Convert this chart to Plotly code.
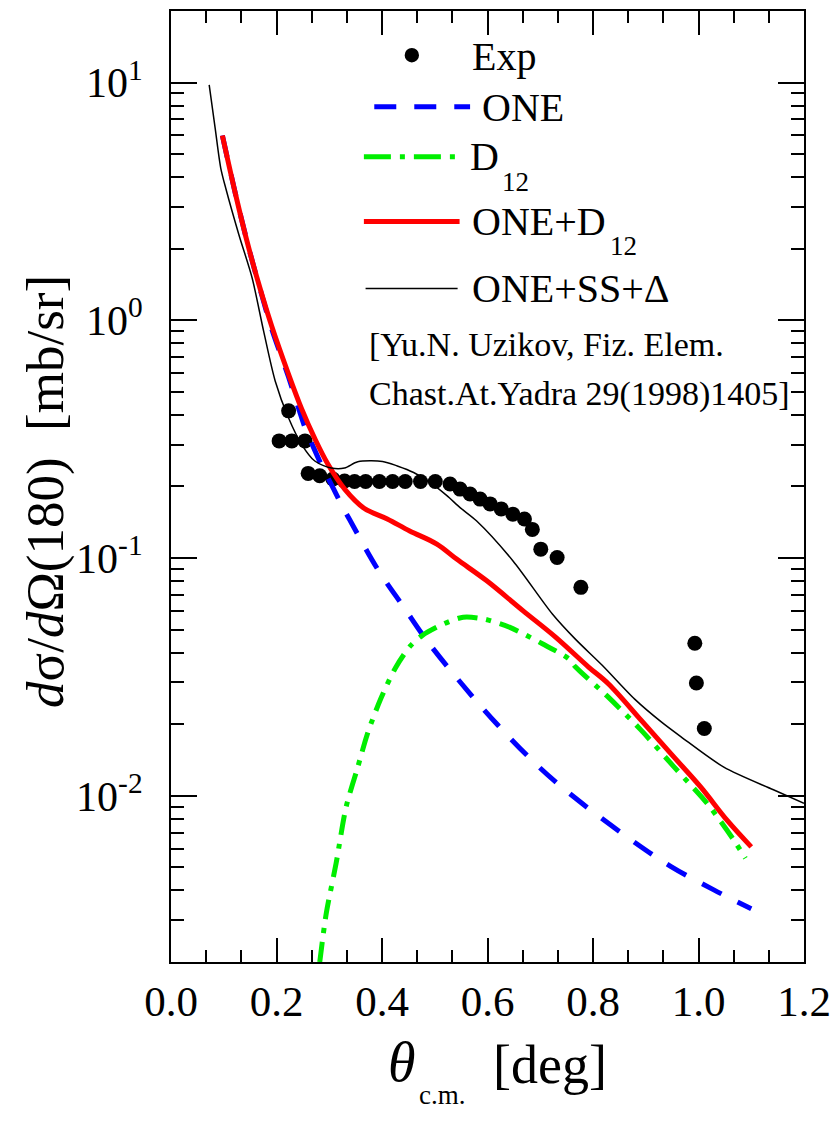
import plotly.graph_objects as go

# ---------------- data ----------------
exp_theta = [0.205, 0.223, 0.229, 0.254, 0.260, 0.282, 0.307, 0.329, 0.348, 0.369,
             0.395, 0.420, 0.444, 0.473, 0.501, 0.529, 0.548, 0.567, 0.586, 0.605,
             0.626, 0.648, 0.670, 0.685, 0.701, 0.732, 0.777, 0.993, 0.996, 1.011]
exp_xs = [0.311, 0.416, 0.311, 0.311, 0.227, 0.222, 0.215, 0.211, 0.210, 0.210,
          0.210, 0.210, 0.210, 0.210, 0.210, 0.205, 0.195, 0.186, 0.177, 0.169,
          0.161, 0.153, 0.146, 0.132, 0.109, 0.1006, 0.0753, 0.0438, 0.0298, 0.0192]

one_theta = [0.0974, 0.1225, 0.1475, 0.1724, 0.191, 0.2225, 0.2475, 0.254, 0.269, 0.288,
             0.307, 0.326, 0.338, 0.3895, 0.4415, 0.485, 0.551, 0.62, 0.698, 0.767,
             0.873, 0.948, 1.029, 1.1]
one_xs = [5.99, 3.38, 2.01, 1.27, 0.92, 0.58, 0.39, 0.354, 0.296, 0.239,
          0.198, 0.163, 0.146, 0.0915, 0.062, 0.045, 0.0296, 0.0198, 0.0132, 0.00976,
          0.00651, 0.00504, 0.00402, 0.00335]

d12_theta = [0.282, 0.2944, 0.313, 0.332, 0.354, 0.3726, 0.3976, 0.4257, 0.4538, 0.476,
             0.5165, 0.554, 0.5915, 0.6415, 0.704, 0.754, 0.767, 0.829, 0.892, 0.954,
             1.0167, 1.067, 1.089]
d12_xs = [0.0020, 0.00321, 0.0052, 0.00898, 0.0132, 0.0183, 0.0256, 0.0346, 0.0427, 0.0472,
          0.0528, 0.0564, 0.0555, 0.0512, 0.0436, 0.0377, 0.0348, 0.026, 0.0188, 0.0132,
          0.00927, 0.00651, 0.00546]

sum_theta = [0.0974, 0.1225, 0.1475, 0.1724, 0.191, 0.2225, 0.2475, 0.2726, 0.2976, 0.33,
             0.366, 0.41, 0.4525, 0.504, 0.5415, 0.598, 0.667, 0.729, 0.7916, 0.829,
             0.892, 0.948, 1.004, 1.054, 1.1]
sum_xs = [5.99, 3.38, 2.01, 1.28, 0.944, 0.596, 0.425, 0.318, 0.248, 0.194,
          0.162, 0.146, 0.130, 0.1145, 0.099, 0.0804, 0.0601, 0.0465, 0.0348, 0.0296,
          0.0207, 0.0150, 0.0109, 0.0079, 0.0061]

ss_theta = [0.0724, 0.0837, 0.0943, 0.1037, 0.1287, 0.1537, 0.1756, 0.1975, 0.2225, 0.2475,
            0.2726, 0.304, 0.329, 0.354, 0.401, 0.429, 0.460, 0.491, 0.523, 0.548,
            0.579, 0.648, 0.723, 0.767, 0.817, 0.879, 0.93, 0.967, 1.048, 1.142, 1.2]
ss_xs = [9.78, 6.43, 4.37, 3.6, 2.29, 1.51, 0.90, 0.556, 0.39, 0.301,
         0.256, 0.239, 0.239, 0.254, 0.255, 0.244, 0.229, 0.208, 0.183, 0.163,
         0.1435, 0.0975, 0.0582, 0.0455, 0.0355, 0.0255, 0.0204, 0.0177, 0.0132, 0.0106, 0.0093]

y_tickvals = [0.01, 0.1, 1, 10]
y_ticktext = ["10<sup>-2</sup>", "10<sup>-1</sup>", "10<sup>0</sup>", "10<sup>1</sup>"]
y_minor = [m * 10 ** e for e in range(-3, 2) for m in range(2, 10)]

legend_labels = ["Exp", "ONE", "D", "ONE+D", "ONE+SS+Δ"]
legend_subs = ["", "", "12", "12", ""]
citation = ["[Yu.N. Uzikov, Fiz. Elem.", "Chast.At.Yadra 29(1998)1405]"]

FONT = "Liberation Serif, Times New Roman, serif"

fig = go.Figure()
fig.add_trace(go.Scatter(x=exp_theta, y=exp_xs, mode="markers",
                         marker=dict(color="black", size=15), name="Exp"))
fig.add_trace(go.Scatter(x=one_theta, y=one_xs, mode="lines", line_shape="spline",
                         line=dict(color="#0000ff", width=5, dash="22px,18px"), name="ONE"))
fig.add_trace(go.Scatter(x=d12_theta, y=d12_xs, mode="lines", line_shape="spline",
                         line=dict(color="#00ee00", width=5, dash="20px,9px,5px,9px",
                                   smoothing=0.8), name="D12"))
fig.add_trace(go.Scatter(x=sum_theta, y=sum_xs, mode="lines", line_shape="spline",
                         line=dict(color="#ff0000", width=5), name="ONE+D12"))
fig.add_trace(go.Scatter(x=ss_theta, y=ss_xs, mode="lines", line_shape="spline",
                         line=dict(color="black", width=1.5, smoothing=0.8), name="ONE+SS+Δ"))

# ---------------- manual legend ----------------
L, R, T, B = 171.4, 811.0, 9.0, 962.0
def px(x):
    return (x - L) / (R - L)
def py(y):
    return (B - y) / (B - T)

fig.add_shape(type="circle", xref="paper", yref="paper",
              x0=px(407.5), x1=px(422), y0=py(60.5), y1=py(46), fillcolor="black",
              line=dict(color="black", width=0))
leg_lines = [
    (376.8, 473.6, 105, "#0000ff", "22px,18px"),
    (366.3, 461.0, 155, "#00ee00", "27px,9px,5px,9px"),
    (366.3, 463.0, 220, "#ff0000", "solid"),
    (368.0, 461.0, 287, "black", "solid"),
]
for x0, x1, yy, c, d in leg_lines:
    fig.add_shape(type="line", xref="paper", yref="paper", x0=px(x0), x1=px(x1),
                  y0=py(yy), y1=py(yy),
                  line=dict(color=c, width=1.5 if c == "black" else 5, dash=d))

leg_text_pos = [(473.6, 55), (484, 106), (471.5, 155), (473.6, 220), (473.6, 287)]
leg_sub_pos = [None, None, (504, 180), (613, 244), None]
for lab, sub, (x, y), sp in zip(legend_labels, legend_subs, leg_text_pos, leg_sub_pos):
    fig.add_annotation(xref="paper", yref="paper", x=px(x), y=py(y), text=lab,
                       showarrow=False, xanchor="left", yanchor="middle",
                       font=dict(family=FONT, size=40, color="black"))
    if sub:
        fig.add_annotation(xref="paper", yref="paper", x=px(sp[0]), y=py(sp[1]), text=sub,
                           showarrow=False, xanchor="left", yanchor="middle",
                           font=dict(family=FONT, size=27, color="black"))
for txt, y in zip(citation, [343, 393]):
    fig.add_annotation(xref="paper", yref="paper", x=px(369), y=py(y), text=txt,
                       showarrow=False, xanchor="left", yanchor="middle",
                       font=dict(family=FONT, size=34, color="black"))

# axis titles
fig.add_annotation(xref="paper", yref="paper", x=px(45), y=py(490),
                   text="<i>d</i>σ/<i>d</i>Ω(180)  [mb/sr]", textangle=-90,
                   showarrow=False, xanchor="center", yanchor="middle",
                   font=dict(family=FONT, size=53, color="black"))
fig.add_annotation(xref="paper", yref="paper", x=px(421), y=py(1062),
                   text="<i>θ</i>", showarrow=False, xanchor="right", yanchor="middle",
                   font=dict(family=FONT, size=56, color="black"))
fig.add_annotation(xref="paper", yref="paper", x=px(420), y=py(1095),
                   text="c.m.", showarrow=False, xanchor="left", yanchor="middle",
                   font=dict(family=FONT, size=27, color="black"))
fig.add_annotation(xref="paper", yref="paper", x=px(495), y=py(1065),
                   text="[deg]", showarrow=False, xanchor="left", yanchor="middle",
                   font=dict(family=FONT, size=54, color="black"))

fig.update_layout(
    width=840, height=1123,
    margin=dict(l=L, r=840 - R, t=T, b=1123 - B),
    paper_bgcolor="white", plot_bgcolor="white",
    showlegend=False,
    font=dict(family=FONT, color="black"),
    xaxis=dict(range=[0, 1.2], dtick=0.2, tick0=0, tickformat=".1f",
               ticks="inside", ticklen=24, tickwidth=2, tickcolor="black",
               showline=True, linewidth=2, linecolor="black", mirror="allticks",
               showgrid=False, zeroline=False, ticklabelstandoff=0,
               tickfont=dict(family=FONT, size=43),
               minor=dict(ticks="inside", ticklen=12, tickwidth=2, tickcolor="black",
                          dtick=0.2 / 3, tick0=0, showgrid=False)),
    yaxis=dict(type="log", range=[-2.699, 1.301],
               tickmode="array", tickvals=y_tickvals, ticktext=y_ticktext,
               ticks="inside", ticklen=26, tickwidth=2, tickcolor="black",
               showline=True, linewidth=2, linecolor="black", mirror="allticks",
               showgrid=False, zeroline=False, ticklabelstandoff=18,
               tickfont=dict(family=FONT, size=42),
               minor=dict(ticks="inside", ticklen=13, tickwidth=2, tickcolor="black",
                          tickmode="array", tickvals=y_minor, showgrid=False)),
)

fig.write_html("out.html")
